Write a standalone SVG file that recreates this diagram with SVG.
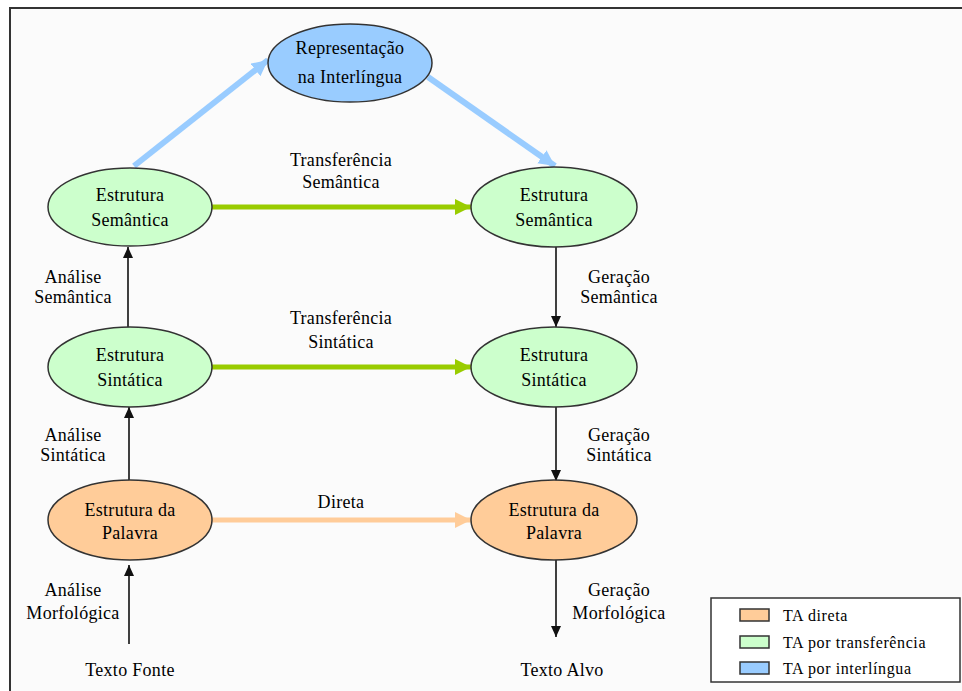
<svg xmlns="http://www.w3.org/2000/svg" width="962" height="691" viewBox="0 0 962 691" font-family="'Liberation Serif', 'DejaVu Serif', serif">
  <style>
    text { font-family: 'Liberation Serif', 'DejaVu Serif', serif; fill: #000; text-anchor: middle; }
    .lbl { font-size: 18px; letter-spacing: 0.3px; }
    .leg { font-size: 16px; letter-spacing: 0.6px; text-anchor: start; }
    .node { stroke: #333; stroke-width: 1.5; }
    .direct { fill: #ffcc99; }
    .transfer { fill: #ccffcc; }
    .inter { fill: #99ccff; }
    .thin { stroke: #111; stroke-width: 1.6; fill: none; marker-end: url(#headBlack); }
    .blue { stroke: #99ccff; stroke-width: 6; fill: none; marker-end: url(#headBlue); }
    .green { stroke: #99cc00; stroke-width: 5; fill: none; marker-end: url(#headGreen); }
    .orange { stroke: #ffcc99; stroke-width: 5; fill: none; marker-end: url(#headOrange); }
  </style>
  <defs>
    <marker id="headBlack" markerUnits="userSpaceOnUse" markerWidth="12" markerHeight="12" refX="11" refY="5" orient="auto">
      <path d="M0,0 L11,5 L0,10 Z" fill="#111"/>
    </marker>
    <marker id="headBlue" markerUnits="userSpaceOnUse" markerWidth="18" markerHeight="18" refX="16" refY="8" orient="auto">
      <path d="M0,0 L16,8 L0,16 Z" fill="#99ccff"/>
    </marker>
    <marker id="headGreen" markerUnits="userSpaceOnUse" markerWidth="18" markerHeight="18" refX="16" refY="8" orient="auto">
      <path d="M0,0 L16,8 L0,16 Z" fill="#99cc00"/>
    </marker>
    <marker id="headOrange" markerUnits="userSpaceOnUse" markerWidth="18" markerHeight="18" refX="16" refY="8" orient="auto">
      <path d="M0,0 L16,8 L0,16 Z" fill="#ffcc99"/>
    </marker>
  </defs>

  <!-- page -->
  <rect x="0" y="0" width="962" height="691" fill="#ffffff"/>
  <rect x="10" y="8" width="960" height="700" fill="#fbfbfb" stroke="#333" stroke-width="2"/>

  <!-- connectors -->
  <g id="connectors">
    <line class="blue" x1="134" y1="166" x2="268" y2="60"/>
    <line class="blue" x1="428" y1="77" x2="555" y2="166"/>
    <line class="green" x1="212" y1="207" x2="471" y2="207"/>
    <line class="green" x1="212" y1="367" x2="471" y2="367"/>
    <line class="orange" x1="212" y1="520" x2="471" y2="520"/>
    <line class="thin" x1="128" y1="327" x2="128" y2="247"/>
    <line class="thin" x1="129" y1="481" x2="129" y2="407"/>
    <line class="thin" x1="129" y1="644" x2="129" y2="565"/>
    <line class="thin" x1="556" y1="247" x2="556" y2="327"/>
    <line class="thin" x1="556" y1="407" x2="556" y2="481"/>
    <line class="thin" x1="556" y1="560" x2="556" y2="637"/>
    <text class="lbl" x="341" y="166">Transferência</text>
    <text class="lbl" x="341" y="188">Semântica</text>
    <text class="lbl" x="341" y="324">Transferência</text>
    <text class="lbl" x="341" y="348">Sintática</text>
    <text class="lbl" x="341" y="508">Direta</text>
    <text class="lbl" x="73" y="283">Análise</text>
    <text class="lbl" x="73" y="303">Semântica</text>
    <text class="lbl" x="73" y="441">Análise</text>
    <text class="lbl" x="73" y="461">Sintática</text>
    <text class="lbl" x="73" y="596">Análise</text>
    <text class="lbl" x="73" y="619">Morfológica</text>
    <text class="lbl" x="619" y="283">Geração</text>
    <text class="lbl" x="619" y="303">Semântica</text>
    <text class="lbl" x="619" y="441">Geração</text>
    <text class="lbl" x="619" y="461">Sintática</text>
    <text class="lbl" x="619" y="596">Geração</text>
    <text class="lbl" x="619" y="619">Morfológica</text>
  </g>

  <!-- nodes -->
  <g id="interlingua">
    <ellipse class="node inter" cx="350" cy="63" rx="82" ry="39"/>
    <text class="lbl" x="350" y="54">Representação</text>
    <text class="lbl" x="350" y="83">na Interlíngua</text>
  </g>
  <g id="sem-src">
    <ellipse class="node transfer" cx="130" cy="207" rx="82" ry="39"/>
    <text class="lbl" x="130" y="201">Estrutura</text>
    <text class="lbl" x="130" y="226">Semântica</text>
  </g>
  <g id="sem-tgt">
    <ellipse class="node transfer" cx="554" cy="207" rx="83" ry="40"/>
    <text class="lbl" x="554" y="201">Estrutura</text>
    <text class="lbl" x="554" y="226">Semântica</text>
  </g>
  <g id="sint-src">
    <ellipse class="node transfer" cx="130" cy="367" rx="82" ry="40"/>
    <text class="lbl" x="130" y="361">Estrutura</text>
    <text class="lbl" x="130" y="386">Sintática</text>
  </g>
  <g id="sint-tgt">
    <ellipse class="node transfer" cx="554" cy="367" rx="83" ry="40"/>
    <text class="lbl" x="554" y="361">Estrutura</text>
    <text class="lbl" x="554" y="386">Sintática</text>
  </g>
  <g id="pal-src">
    <ellipse class="node direct" cx="130" cy="520" rx="82" ry="40"/>
    <text class="lbl" x="130" y="516">Estrutura da</text>
    <text class="lbl" x="130" y="539">Palavra</text>
  </g>
  <g id="pal-tgt">
    <ellipse class="node direct" cx="554" cy="520" rx="83" ry="40"/>
    <text class="lbl" x="554" y="516">Estrutura da</text>
    <text class="lbl" x="554" y="539">Palavra</text>
  </g>
  <g id="texto-fonte">
    <text class="lbl" x="130" y="676">Texto Fonte</text>
  </g>
  <g id="texto-alvo">
    <text class="lbl" x="562" y="676">Texto Alvo</text>
  </g>

  <!-- legend -->
  <g id="legend">
    <rect x="711" y="598" width="249" height="84" fill="#ffffff" stroke="#333" stroke-width="1.5"/>
    <rect x="740" y="609" width="29" height="12" class="node direct"/>
    <rect x="740" y="636" width="29" height="12" class="node transfer"/>
    <rect x="740" y="662" width="29" height="12" class="node inter"/>
    <text class="leg" x="783" y="621">TA direta</text>
    <text class="leg" x="783" y="648">TA por transferência</text>
    <text class="leg" x="783" y="674">TA por interlíngua</text>
  </g>
</svg>
